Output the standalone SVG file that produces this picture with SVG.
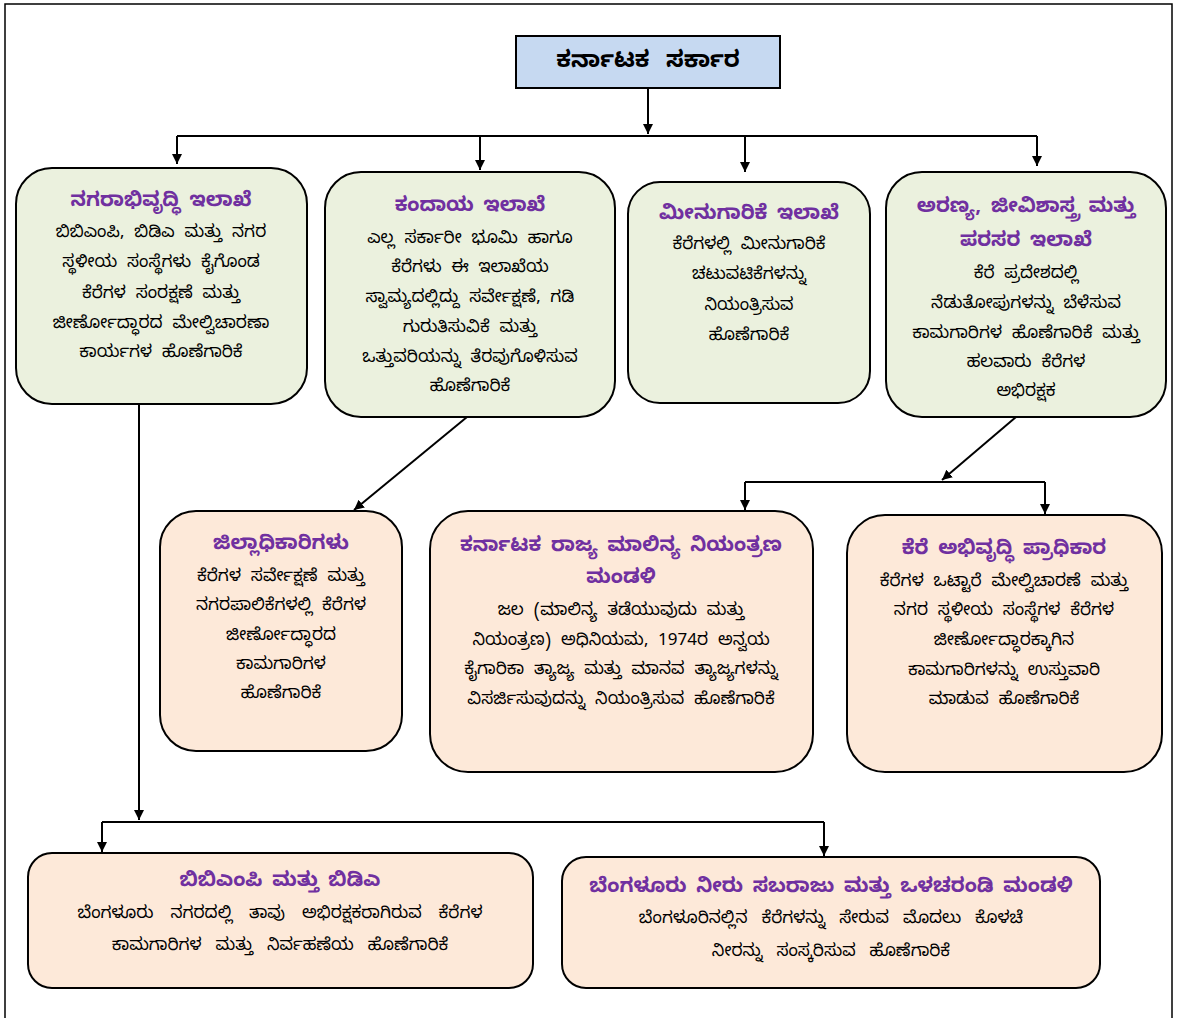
<svg xmlns="http://www.w3.org/2000/svg" width="1185" height="1018" viewBox="0 0 1185 1018">
<defs>
<style>
.frame{fill:none;stroke:#000;stroke-width:1.5}
.top{fill:#c6d9f1;stroke:#000;stroke-width:2}
.g{fill:#ebf1de;stroke:#000;stroke-width:2}
.p{fill:#fde9d9;stroke:#000;stroke-width:2}
.ln{fill:none;stroke:#000;stroke-width:2}
text{font-family:"Noto Sans Kannada","Tunga","Lohit Kannada","Noto Sans",sans-serif;text-anchor:middle;dominant-baseline:central}
.t{font-size:20px;font-weight:bold;fill:#7030a0;word-spacing:4px}
.b{font-size:17px;fill:#000;word-spacing:5px}
.h{font-size:23px;font-weight:bold;fill:#000;word-spacing:10px}
</style>
<marker id="ar" viewBox="0 0 10 10" refX="10" refY="5" markerWidth="10" markerHeight="10" markerUnits="userSpaceOnUse" orient="auto">
<path d="M0,0 L10,5 L0,10 z" fill="#000"/>
</marker>
</defs>
<rect width="1185" height="1018" fill="#fff"/>
<rect class="frame" x="5" y="4" width="1167" height="1030"/>
<g id="connectors">
<path class="ln" d="M648,88 V134" marker-end="url(#ar)"/>
<path class="ln" d="M177,136 H1037"/>
<path class="ln" d="M177,136 V164" marker-end="url(#ar)"/>
<path class="ln" d="M480,136 V170" marker-end="url(#ar)"/>
<path class="ln" d="M745,136 V172" marker-end="url(#ar)"/>
<path class="ln" d="M1037,136 V166" marker-end="url(#ar)"/>
<path class="ln" d="M139,404 V820" marker-end="url(#ar)"/>
<path class="ln" d="M102,822 H824"/>
<path class="ln" d="M102,822 V852" marker-end="url(#ar)"/>
<path class="ln" d="M824,822 V856" marker-end="url(#ar)"/>
<path class="ln" d="M467,417 L354,510" marker-end="url(#ar)"/>
<path class="ln" d="M1016,417 L942,480" marker-end="url(#ar)"/>
<path class="ln" d="M745,482 H1045"/>
<path class="ln" d="M745,482 V510" marker-end="url(#ar)"/>
<path class="ln" d="M1045,482 V514" marker-end="url(#ar)"/>
</g>
<g id="n0">
<rect class="top" x="516" y="36" width="264" height="52"/>
<text class="h" x="648" y="63">ಕರ್ನಾಟಕ ಸರ್ಕಾರ</text>
</g>
<g id="n1">
<rect class="g" x="16" y="168" width="291" height="236" rx="36"/>
<text class="t" x="161" y="203">ನಗರಾಭಿವೃದ್ಧಿ ಇಲಾಖೆ</text>
<text class="b" x="161" y="234">ಬಿಬಿಎಂಪಿ, ಬಿಡಿಎ ಮತ್ತು ನಗರ</text>
<text class="b" x="161" y="264">ಸ್ಥಳೀಯ ಸಂಸ್ಥೆಗಳು ಕೈಗೊಂಡ</text>
<text class="b" x="161" y="295">ಕೆರೆಗಳ ಸಂರಕ್ಷಣೆ ಮತ್ತು</text>
<text class="b" x="161" y="325">ಜೀರ್ಣೋದ್ಧಾರದ ಮೇಲ್ವಿಚಾರಣಾ</text>
<text class="b" x="161" y="354">ಕಾರ್ಯಗಳ ಹೊಣೆಗಾರಿಕೆ</text>
</g>
<g id="n2">
<rect class="g" x="325" y="172" width="290" height="245" rx="36"/>
<text class="t" x="470" y="208">ಕಂದಾಯ ಇಲಾಖೆ</text>
<text class="b" x="470" y="240">ಎಲ್ಲ ಸರ್ಕಾರೀ ಭೂಮಿ ಹಾಗೂ</text>
<text class="b" x="470" y="269">ಕೆರೆಗಳು ಈ ಇಲಾಖೆಯ</text>
<text class="b" x="470" y="299">ಸ್ವಾಮ್ಯದಲ್ಲಿದ್ದು ಸರ್ವೇಕ್ಷಣೆ, ಗಡಿ</text>
<text class="b" x="470" y="329">ಗುರುತಿಸುವಿಕೆ ಮತ್ತು</text>
<text class="b" x="470" y="359">ಒತ್ತುವರಿಯನ್ನು ತೆರವುಗೊಳಿಸುವ</text>
<text class="b" x="470" y="388">ಹೊಣೆಗಾರಿಕೆ</text>
</g>
<g id="n3">
<rect class="g" x="628" y="182" width="242" height="221" rx="32"/>
<text class="t" x="749" y="216">ಮೀನುಗಾರಿಕೆ ಇಲಾಖೆ</text>
<text class="b" x="749" y="246">ಕೆರೆಗಳಲ್ಲಿ ಮೀನುಗಾರಿಕೆ</text>
<text class="b" x="749" y="276">ಚಟುವಟಿಕೆಗಳನ್ನು</text>
<text class="b" x="749" y="307">ನಿಯಂತ್ರಿಸುವ</text>
<text class="b" x="749" y="337">ಹೊಣೆಗಾರಿಕೆ</text>
</g>
<g id="n4">
<rect class="g" x="886" y="172" width="280" height="245" rx="36"/>
<text class="t" x="1026" y="209">ಅರಣ್ಯ, ಜೀವಿಶಾಸ್ತ್ರ ಮತ್ತು</text>
<text class="t" x="1026" y="243">ಪರಸರ ಇಲಾಖೆ</text>
<text class="b" x="1026" y="275">ಕೆರೆ ಪ್ರದೇಶದಲ್ಲಿ</text>
<text class="b" x="1026" y="305">ನೆಡುತೋಪುಗಳನ್ನು ಬೆಳೆಸುವ</text>
<text class="b" x="1026" y="335">ಕಾಮಗಾರಿಗಳ ಹೊಣೆಗಾರಿಕೆ ಮತ್ತು</text>
<text class="b" x="1026" y="364">ಹಲವಾರು ಕೆರೆಗಳ</text>
<text class="b" x="1026" y="393">ಅಭಿರಕ್ಷಕ</text>
</g>
<g id="n5">
<rect class="p" x="160" y="511" width="242" height="240" rx="36"/>
<text class="t" x="281" y="546">ಜಿಲ್ಲಾಧಿಕಾರಿಗಳು</text>
<text class="b" x="281" y="578">ಕೆರೆಗಳ ಸರ್ವೇಕ್ಷಣೆ ಮತ್ತು</text>
<text class="b" x="281" y="607">ನಗರಪಾಲಿಕೆಗಳಲ್ಲಿ ಕೆರೆಗಳ</text>
<text class="b" x="281" y="637">ಜೀರ್ಣೋದ್ಧಾರದ</text>
<text class="b" x="281" y="666">ಕಾಮಗಾರಿಗಳ</text>
<text class="b" x="281" y="695">ಹೊಣೆಗಾರಿಕೆ</text>
</g>
<g id="n6">
<rect class="p" x="430" y="511" width="383" height="261" rx="38"/>
<text class="t" x="621" y="548">ಕರ್ನಾಟಕ ರಾಜ್ಯ ಮಾಲಿನ್ಯ ನಿಯಂತ್ರಣ</text>
<text class="t" x="621" y="580">ಮಂಡಳಿ</text>
<text class="b" x="621" y="612">ಜಲ (ಮಾಲಿನ್ಯ ತಡೆಯುವುದು ಮತ್ತು</text>
<text class="b" x="621" y="642">ನಿಯಂತ್ರಣ) ಅಧಿನಿಯಮ, 1974ರ ಅನ್ವಯ</text>
<text class="b" x="621" y="671">ಕೈಗಾರಿಕಾ ತ್ಯಾಜ್ಯ ಮತ್ತು ಮಾನವ ತ್ಯಾಜ್ಯಗಳನ್ನು</text>
<text class="b" x="621" y="701">ವಿಸರ್ಜಿಸುವುದನ್ನು ನಿಯಂತ್ರಿಸುವ ಹೊಣೆಗಾರಿಕೆ</text>
</g>
<g id="n7">
<rect class="p" x="847" y="515" width="315" height="257" rx="38"/>
<text class="t" x="1004" y="551">ಕೆರೆ ಅಭಿವೃದ್ಧಿ ಪ್ರಾಧಿಕಾರ</text>
<text class="b" x="1004" y="583">ಕೆರೆಗಳ ಒಟ್ಟಾರೆ ಮೇಲ್ವಿಚಾರಣೆ ಮತ್ತು</text>
<text class="b" x="1004" y="612">ನಗರ ಸ್ಥಳೀಯ ಸಂಸ್ಥೆಗಳ ಕೆರೆಗಳ</text>
<text class="b" x="1004" y="642">ಜೀರ್ಣೋದ್ಧಾರಕ್ಕಾಗಿನ</text>
<text class="b" x="1004" y="672">ಕಾಮಗಾರಿಗಳನ್ನು ಉಸ್ತುವಾರಿ</text>
<text class="b" x="1004" y="701">ಮಾಡುವ ಹೊಣೆಗಾರಿಕೆ</text>
</g>
<g id="n8">
<rect class="p" x="28" y="853" width="505" height="135" rx="24"/>
<text class="t" x="280" y="883">ಬಿಬಿಎಂಪಿ ಮತ್ತು ಬಿಡಿಎ</text>
<text class="b" x="280" y="915" style="word-spacing:12px">ಬೆಂಗಳೂರು ನಗರದಲ್ಲಿ ತಾವು ಅಭಿರಕ್ಷಕರಾಗಿರುವ ಕೆರೆಗಳ</text>
<text class="b" x="280" y="947" style="word-spacing:9px">ಕಾಮಗಾರಿಗಳ ಮತ್ತು ನಿರ್ವಹಣೆಯ ಹೊಣೆಗಾರಿಕೆ</text>
</g>
<g id="n9">
<rect class="p" x="562" y="857" width="538" height="131" rx="24"/>
<text class="t" x="831" y="889">ಬೆಂಗಳೂರು ನೀರು ಸಬರಾಜು ಮತ್ತು ಒಳಚರಂಡಿ ಮಂಡಳಿ</text>
<text class="b" x="831" y="920" style="word-spacing:9px">ಬೆಂಗಳೂರಿನಲ್ಲಿನ ಕೆರೆಗಳನ್ನು ಸೇರುವ ಮೊದಲು ಕೊಳಚೆ</text>
<text class="b" x="831" y="953" style="word-spacing:9px">ನೀರನ್ನು ಸಂಸ್ಕರಿಸುವ ಹೊಣೆಗಾರಿಕೆ</text>
</g>
</svg>
